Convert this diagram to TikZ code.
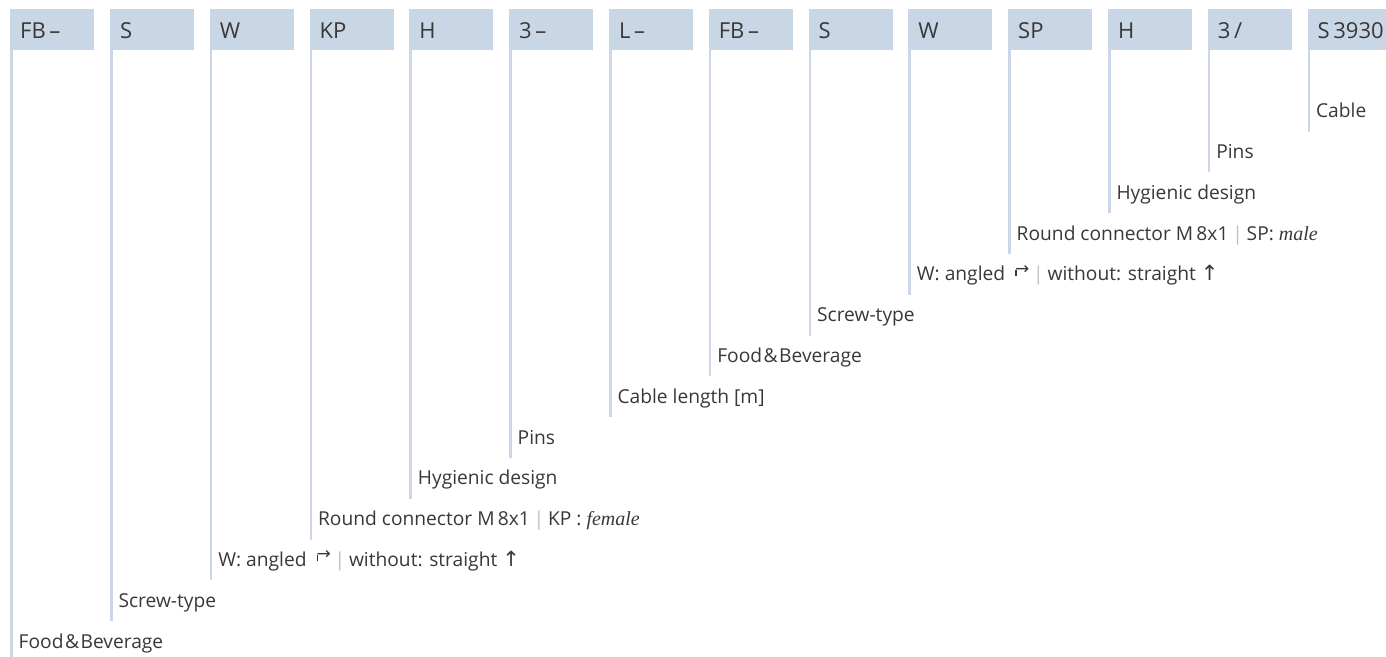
\documentclass[tikz,border=0pt]{standalone}
\usepackage{fontspec}
\usepackage{xcolor}
\usepackage{tikz}
\usetikzlibrary{positioning, calc}

\setmainfont{Open Sans}
\newfontfamily\symfont{DejaVu Sans}
\newfontfamily\serfont{Liberation Serif}

\definecolor{codeblue}{HTML}{C9D6E5}
\definecolor{stemblue}{HTML}{CBD7E6}
\definecolor{sepgray}{HTML}{BEBEBE}
\definecolor{txtgray}{HTML}{383838}

\newcommand{\sepbar}{\hspace{0.2em}{\color{sepgray}|}\hspace{0.2em}}
\newcommand{\angarrow}{\rule[5pt]{1.6pt}{6pt}\kern-1.6pt\raisebox{6.8pt}{\symfont\fontsize{17}{17}\selectfont →}}
\newcommand{\uparrowsym}{{\symfont\fontsize{21}{21}\selectfont ↑}}
\newcommand{\fbtext}{Food\kern1.5pt\&\kern1.5pt Beverage}

\begin{document}
\begin{tikzpicture}[
    x=1pt, y=-1pt,
    color=txtgray,
    code/.style={fill=codeblue, anchor=north west, inner xsep=10pt, inner ysep=0pt, text width=64pt, minimum height=41pt, align=left, text height=18pt, text depth=0pt, font=\fontsize{22}{24}\selectfont},
    stem/.style={draw=stemblue, line width=2.5pt},
    desc/.style={anchor=base west, inner sep=0pt, font=\fontsize{19.2}{21}\selectfont}
]
    \useasboundingbox (0,0) rectangle (1386,656);
    \clip (0,0) rectangle (1386,656);

    % ================= CODE BOXES =================
    \node[code] (fb) at (10, 9) {FB\,–};
    \node[code] (s) at (109.8, 9) {S};
    \node[code] (w) at (209.6, 9) {W};
    \node[code] (kp) at (309.4, 9) {KP};
    \node[code] (h) at (409.2, 9) {H};
    \node[code] (pn) at (509, 9) {3\,–};
    \node[code] (len) at (608.8, 9) {L\,–};
    \node[code] (fb2) at (708.6, 9) {FB\,–};
    \node[code] (s2) at (808.4, 9) {S};
    \node[code] (w2) at (908.2, 9) {W};
    \node[code] (sp) at (1008, 9) {SP};
    \node[code] (h2) at (1107.8, 9) {H};
    \node[code] (pn2) at (1207.6, 9) {3\,/};
    \node[code] (cab) at (1307.4, 9) {S\,3930};

    % ================= LINE ENDS =================
    \coordinate (e_fb) at (11.5, 662);
    \coordinate (e_s) at (111.3, 621.2);
    \coordinate (e_w) at (211.1, 580.4);
    \coordinate (e_kp) at (310.9, 539.6);
    \coordinate (e_h) at (410.7, 498.8);
    \coordinate (e_pn) at (510.5, 458);
    \coordinate (e_len) at (610.3, 417.2);
    \coordinate (e_fb2) at (710.1, 376.4);
    \coordinate (e_s2) at (809.9, 335.6);
    \coordinate (e_w2) at (909.7, 294.8);
    \coordinate (e_sp) at (1009.5, 254);
    \coordinate (e_h2) at (1109.3, 213.2);
    \coordinate (e_pn2) at (1209.1, 172.4);
    \coordinate (e_cab) at (1308.9, 131.6);

    % ================= STEMS =================
    \draw[stem] ([xshift=1.5pt]fb.south west) -- (e_fb);
    \draw[stem] ([xshift=1.5pt]s.south west) -- (e_s);
    \draw[stem] ([xshift=1.5pt]w.south west) -- (e_w);
    \draw[stem] ([xshift=1.5pt]kp.south west) -- (e_kp);
    \draw[stem] ([xshift=1.5pt]h.south west) -- (e_h);
    \draw[stem] ([xshift=1.5pt]pn.south west) -- (e_pn);
    \draw[stem] ([xshift=1.5pt]len.south west) -- (e_len);
    \draw[stem] ([xshift=1.5pt]fb2.south west) -- (e_fb2);
    \draw[stem] ([xshift=1.5pt]s2.south west) -- (e_s2);
    \draw[stem] ([xshift=1.5pt]w2.south west) -- (e_w2);
    \draw[stem] ([xshift=1.5pt]sp.south west) -- (e_sp);
    \draw[stem] ([xshift=1.5pt]h2.south west) -- (e_h2);
    \draw[stem] ([xshift=1.5pt]pn2.south west) -- (e_pn2);
    \draw[stem] ([xshift=1.5pt]cab.south west) -- (e_cab);

    % ================= DESCRIPTIONS =================
    \node[desc] (d_fb) at (18.5, 648) {\fbtext};
    \node[desc] (d_s) at (118.3, 607.2) {Screw-type};
    \node[desc] (d_w) at (218.1, 566.4) {W: angled \ \angarrow\sepbar without: straight \uparrowsym};
    \node[desc] (d_kp) at (317.9, 525.6) {Round connector M\,8x1\sepbar KP : {\serfont\itshape\fontsize{20}{21}\selectfont female}};
    \node[desc] (d_h) at (417.7, 484.8) {Hygienic design};
    \node[desc] (d_pn) at (517.5, 444) {Pins};
    \node[desc] (d_len) at (617.3, 403.2) {Cable length [m]};
    \node[desc] (d_fb2) at (717.1, 362.4) {\fbtext};
    \node[desc] (d_s2) at (816.9, 321.6) {Screw-type};
    \node[desc] (d_w2) at (916.7, 280.8) {W: angled \ \angarrow\sepbar without: straight \uparrowsym};
    \node[desc] (d_sp) at (1016.5, 240) {Round connector M\,8x1\sepbar SP: {\serfont\itshape\fontsize{20}{21}\selectfont male}};
    \node[desc] (d_h2) at (1116.3, 199.2) {Hygienic design};
    \node[desc] (d_pn2) at (1216.1, 158.4) {Pins};
    \node[desc] (d_cab) at (1315.9, 117.6) {Cable};

\end{tikzpicture}
\end{document}
